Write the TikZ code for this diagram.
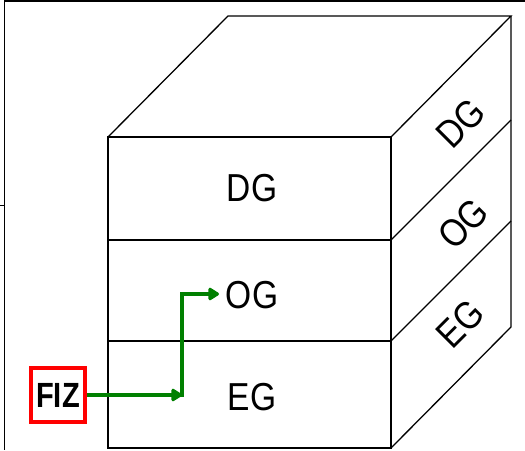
\documentclass[tikz,border=0pt]{standalone}
\usepackage{fontspec}
\setmainfont{Liberation Sans}
\usetikzlibrary{arrows.meta}
\tikzset{
  edge/.style={line width=1.3pt, line join=miter},
  lbl/.style={font=\fontsize{39}{39}\selectfont, inner sep=0pt},
  flow/.style={draw={rgb,255:red,0;green,128;blue,0}, line width=3.6pt,
    -{Triangle[length=12pt,width=14pt,round]}},
  fizbox/.style={draw=red, line width=4pt, minimum width=54pt, minimum height=54pt,
    inner sep=0pt, font=\bfseries\fontsize{35}{35}\selectfont}
}
\begin{document}
\begin{tikzpicture}[x=1pt,y=-1pt]
\useasboundingbox (0,0) rectangle (525,450);
% frame lines
\draw[line width=1.3pt] (525,1) -- (4.5,1) -- (4.5,450);
\draw[line width=1.3pt] (0,205.5) -- (4.5,205.5);
% cube corners
\coordinate (ftl) at (108,137);
\coordinate (ftr) at (391,137);
\coordinate (fbl) at (108,448);
\coordinate (fbr) at (391,448);
\coordinate (btl) at (228,16);
\coordinate (btr) at (511,16);
\coordinate (bbr) at (511,327);
\coordinate (f1l) at (108,240);
\coordinate (f1r) at (391,240);
\coordinate (f2l) at (108,341);
\coordinate (f2r) at (391,341);
\coordinate (b1) at (511,120);
\coordinate (b2) at (511,221);
% front face
\draw[edge] (ftl) rectangle (fbr);
\draw[edge] (f1l) -- (f1r);
\draw[edge] (f2l) -- (f2r);
% top face
\draw[edge] (ftl) -- (btl) -- (btr) -- (ftr);
% side face
\draw[edge] (btr) -- (bbr) -- (fbr);
\draw[edge] (f1r) -- (b1);
\draw[edge] (f2r) -- (b2);
% labels
\node[lbl] (dg) at (252,188.5) {\scalebox{0.86}[1]{DG}};
\node[lbl] (og) at (252,295) {\scalebox{0.86}[1]{OG}};
\node[lbl] (eg) at (252,397.5) {\scalebox{0.86}[1]{EG}};
\node[lbl, rotate=45] (sdg) at (461,123) {\scalebox{0.86}[1]{DG}};
\node[lbl, rotate=45] (sog) at (463,224) {\scalebox{0.86}[1]{OG}};
\node[lbl, rotate=45] (seg) at (460,324) {\scalebox{0.86}[1]{EG}};
% FIZ
\node[fizbox] (fiz) at (58,395) {\scalebox{0.83}[1]{FIZ}};
\coordinate (turn) at (182,395);
\coordinate (turnb) at (182,397);
\coordinate (ogtip) at (219,294);
\draw[flow] (fiz.east) -- (turn);
\draw[flow] (turnb) |- (ogtip);
\end{tikzpicture}
\end{document}
